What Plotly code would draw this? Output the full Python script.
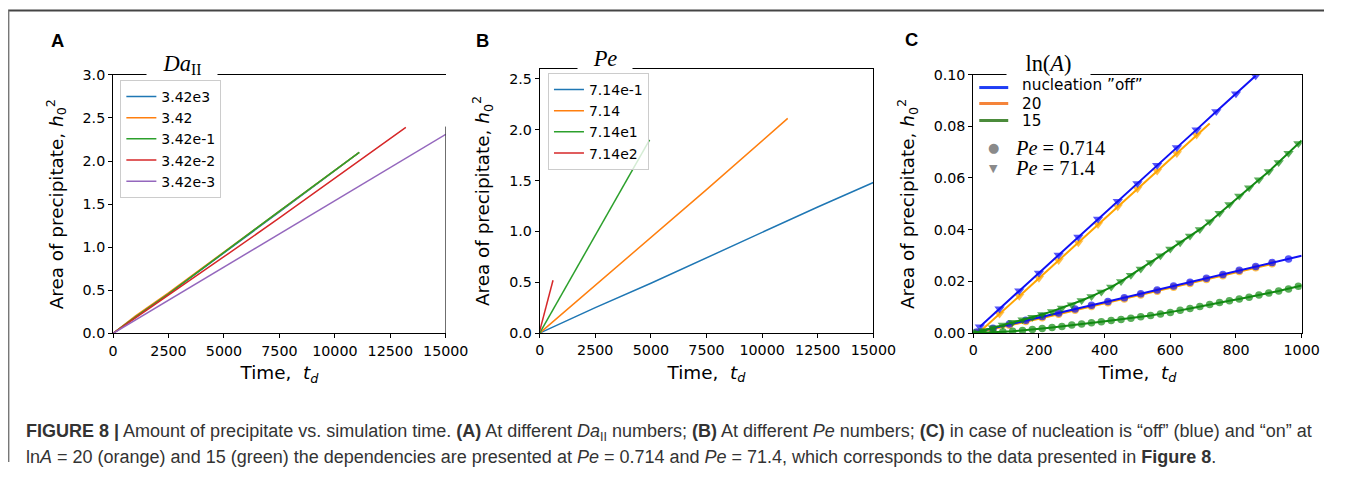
import plotly.graph_objects as go

# The page adds an 8 px body margin, so the figure is made 16 px smaller.
# The photographed picture maps page pixels p to picture pixels q with
# q_x = 0.98 p_x + 4 and q_y = 0.967 p_y + 6.3, so every layout position below is
# given in reference-picture pixels and mapped back through X/Y.
PAGE_W, PAGE_H = 1355, 478
OFF = 8
W, H = PAGE_W - 2 * OFF, PAGE_H - 2 * OFF
SX, BX, SY, BY = 0.98, 4.0, 0.967, 6.3
FS = 1.02  # font compensation for the picture scaling

# ---------------- Panel A : different Da_II ----------------
A_names = ["3.42e3", "3.42", "3.42e-1", "3.42e-2", "3.42e-3"]
A_colors = ["#1f77b4", "#ff7f0e", "#2ca02c", "#d62728", "#9467bd"]
A_t_fast = [0, 1000, 2500, 5000, 7500, 11100]
A_da_3e3 = [0, 0.19, 0.46, 0.93, 1.41, 2.10]
A_da_3 = [0, 0.20, 0.47, 0.94, 1.42, 2.10]
A_da_3em1 = [0, 0.19, 0.46, 0.94, 1.42, 2.10]
A_t_red = [0, 2500, 5000, 7500, 10000, 13200]
A_da_3em2 = [0, 0.44, 0.89, 1.34, 1.80, 2.39]
A_t_purple = [0, 2500, 5000, 7500, 10000, 12500, 15000]
A_da_3em3 = [0, 0.385, 0.77, 1.155, 1.54, 1.925, 2.31]

# ---------------- Panel B : different Pe ----------------
B_names = ["7.14e-1", "7.14", "7.14e1", "7.14e2"]
B_colors = ["#1f77b4", "#ff7f0e", "#2ca02c", "#d62728"]
B_t_blue = [0, 2500, 5000, 7500, 10000, 12500, 15000]
B_pe_0714 = [0, 0.25, 0.49, 0.74, 0.99, 1.24, 1.48]
B_t_orange = [0, 2500, 5000, 7500, 11150]
B_pe_714 = [0, 0.47, 0.94, 1.41, 2.11]
B_t_green = [0, 2500, 4940]
B_pe_71 = [0, 0.96, 1.90]
B_t_red = [0, 300, 600]
B_pe_714e2 = [0.02, 0.27, 0.52]

# ---------------- Panel C : nucleation ----------------
C_colors = {"off": "#1010f5", "20": "#ffa500", "15": "#138a13"}
C_leg_colors = {"off": "#1f3df5", "20": "#f5843a", "15": "#4b8b3b"}

# Pe = 71.4 (triangles)
C_t_off_71 = [20, 80, 140, 200, 260, 320, 380, 440, 500, 560, 620, 680, 740, 800, 860]
C_y_off_71 = [0.0025, 0.0094, 0.0164, 0.0233, 0.0302, 0.0372, 0.0441, 0.0510,
              0.0579, 0.0649, 0.0718, 0.0787, 0.0857, 0.0926, 0.0995]
C_t_20_71 = [20, 80, 140, 200, 260, 320, 380, 440, 500, 560, 620, 680, 720]
C_y_20_71 = [0.0005, 0.0074, 0.0143, 0.0212, 0.0281, 0.0350, 0.0420, 0.0489,
             0.0558, 0.0627, 0.0695, 0.0766, 0.0811]
C_t_15_71 = [0, 30, 60, 90, 120, 150, 180, 210, 240, 270, 300, 330, 360, 390, 420,
             450, 480, 510, 540, 570, 600, 630, 660, 690, 720, 750, 780, 810, 840,
             870, 900, 930, 960, 990, 1000]
C_y_15_71 = [0.0000, 0.0010, 0.0021, 0.0031, 0.0042, 0.0052, 0.0061, 0.0072, 0.0084,
             0.0097, 0.0110, 0.0126, 0.0142, 0.0159, 0.0178, 0.0200, 0.0224, 0.0248,
             0.0273, 0.0299, 0.0325, 0.0350, 0.0376, 0.0401, 0.0431, 0.0464, 0.0497,
             0.0530, 0.0562, 0.0593, 0.0625, 0.0660, 0.0696, 0.0733, 0.0745]

# Pe = 0.714 (circles)
C_t_off_07 = [10, 60, 110, 160, 210, 260, 310, 360, 410, 460, 510, 560, 610, 660,
              710, 760, 810, 860, 910, 960, 1000]
C_y_off_07 = [0.0004, 0.0019, 0.0035, 0.0050, 0.0064, 0.0078, 0.0093, 0.0108, 0.0122,
              0.0137, 0.0152, 0.0167, 0.0182, 0.0197, 0.0212, 0.0227, 0.0243, 0.0258,
              0.0273, 0.0287, 0.0299]
C_t_20_07 = [10, 60, 110, 160, 210, 260, 310, 360, 410, 460, 510, 560, 610, 660,
             710, 760, 810, 860, 910, 920]
C_y_20_07 = [0.0001, 0.0015, 0.0030, 0.0045, 0.0059, 0.0073, 0.0088, 0.0103, 0.0117,
             0.0132, 0.0147, 0.0162, 0.0177, 0.0192, 0.0207, 0.0222, 0.0238, 0.0253,
             0.0268, 0.0271]
C_t_15_07 = [0, 30, 60, 90, 120, 150, 180, 210, 240, 270, 300, 330, 360, 390, 420,
             450, 480, 510, 540, 570, 600, 630, 660, 690, 720, 750, 780, 810, 840,
             870, 900, 930, 960, 990, 1000]
C_y_15_07 = [0.0000, 0.0001, 0.0003, 0.0005, 0.0007, 0.0010, 0.0014, 0.0018, 0.0022,
             0.0026, 0.0031, 0.0035, 0.0040, 0.0044, 0.0049, 0.0053, 0.0058, 0.0063,
             0.0068, 0.0074, 0.0080, 0.0088, 0.0095, 0.0103, 0.0111, 0.0118, 0.0125,
             0.0132, 0.0139, 0.0147, 0.0155, 0.0163, 0.0171, 0.0181, 0.0184]

caption1 = ("<b>FIGURE 8 |</b> Amount of precipitate vs. simulation time. <b>(A)</b> At different "
            "<i>Da</i><sub>II</sub> numbers; <b>(B)</b> At different <i>Pe</i> numbers; "
            "<b>(C)</b> in case of nucleation is “off” (blue) and “on” at")
caption2 = ("ln<i>A</i> = 20 (orange) and 15 (green) the dependencies are presented at "
            "<i>Pe</i> = 0.714 and <i>Pe</i> = 71.4, which corresponds to the data presented in "
            "<b>Figure 8</b>.")


def X(q):
    return ((q - BX) / SX - OFF) / W


def Y(q):
    return 1 - ((q - BY) / SY - OFF) / H


fig = go.Figure()

# Panel A traces
A_series = [(A_t_fast, A_da_3e3), (A_t_fast, A_da_3), (A_t_fast, A_da_3em1),
            (A_t_red, A_da_3em2), (A_t_purple, A_da_3em3)]
for (t, y), name, col in zip(A_series, A_names, A_colors):
    fig.add_trace(go.Scatter(x=t, y=y, mode="lines", name=name,
                             line=dict(color=col, width=1.5),
                             xaxis="x", yaxis="y", legend="legend"))

# Panel B traces
B_series = [(B_t_blue, B_pe_0714), (B_t_orange, B_pe_714), (B_t_green, B_pe_71),
            (B_t_red, B_pe_714e2)]
for (t, y), name, col in zip(B_series, B_names, B_colors):
    fig.add_trace(go.Scatter(x=t, y=y, mode="lines", name=name,
                             line=dict(color=col, width=1.5),
                             xaxis="x2", yaxis="y2", legend="legend2"))


def sizes(t, s, last_line_only):
    out = [s] * len(t)
    if last_line_only:
        out[-1] = 0
    return out


C_series = [
    (C_t_20_07, C_y_20_07, "20", "circle", 7.5, True),
    (C_t_20_71, C_y_20_71, "20", "triangle-down", 9, True),
    (C_t_off_07, C_y_off_07, "off", "circle", 7.5, True),
    (C_t_off_71, C_y_off_71, "off", "triangle-down", 9, False),
    (C_t_15_07, C_y_15_07, "15", "circle", 7.5, True),
    (C_t_15_71, C_y_15_71, "15", "triangle-down", 9, True),
]
for t, y, key, sym, s, lo in C_series:
    fig.add_trace(go.Scatter(x=t, y=y, mode="lines+markers", showlegend=False,
                             line=dict(color=C_colors[key], width=2),
                             marker=dict(color=C_colors[key], symbol=sym,
                                         size=sizes(t, s, lo), line=dict(width=0)),
                             xaxis="x3", yaxis="y3"))

font_ax = dict(family="DejaVu Sans", size=14 * FS, color="black")
font_title = dict(family="DejaVu Sans", size=18 * FS, color="black")


def axis(domain, rng, dtick, fmt, anchor=None, title=None, standoff=None, mirror=True):
    d = dict(domain=domain, range=rng, dtick=dtick, tick0=0, showline=True,
             linecolor="black", linewidth=1, mirror=mirror, ticks="outside", ticklen=4,
             tickwidth=1, tickcolor="black", showgrid=False, zeroline=False,
             tickfont=font_ax, anchor=anchor, fixedrange=True, tickformat=fmt,
             separatethousands=False)
    if title:
        d["title"] = dict(text=title, font=font_title, standoff=standoff)
    return d


ytitle = "Area of precipitate, <i>h</i><sub>0</sub><sup>2</sup>"
xtitle = "Time,  <i>t</i><sub><i>d</i></sub>"

layout = dict(
    width=W, height=H, margin=dict(l=0, r=0, t=0, b=0),
    paper_bgcolor="white", plot_bgcolor="white",
    xaxis=axis([X(112), X(445)], [0, 15000], 2500, "d", anchor="y", title=xtitle, standoff=8),
    yaxis=axis([Y(332), Y(73)], [0, 3.0], 0.5, ".1f", anchor="x", title=ytitle,
               standoff=14, mirror=False),
    xaxis2=axis([X(539), X(873)], [0, 15000], 2500, "d", anchor="y2", title=xtitle,
                standoff=8),
    yaxis2=axis([Y(331.7), Y(66.7)], [0, 2.6], 0.5, ".1f", anchor="x2", title=ytitle,
                standoff=14),
    xaxis3=axis([X(973), X(1301.7)], [0, 1000], 200, "d", anchor="y3", title=xtitle,
                standoff=8),
    yaxis3=axis([Y(331.7), Y(72.7)], [0, 0.1], 0.02, ".2f", anchor="x3", title=ytitle,
                standoff=14),
    legend=dict(x=X(119.3), y=Y(78), xanchor="left", yanchor="top",
                bgcolor="rgba(255,255,255,0.8)", bordercolor="#cccccc", borderwidth=1,
                font=dict(family="DejaVu Sans", size=14, color="black"),
                itemwidth=30),
    legend2=dict(x=X(547.3), y=Y(71), xanchor="left", yanchor="top",
                 bgcolor="rgba(255,255,255,0.8)", bordercolor="#cccccc", borderwidth=1,
                 font=dict(family="DejaVu Sans", size=14, color="black"),
                 itemwidth=30),
    showlegend=True,
)
fig.update_layout(**layout)

shapes = [
    # outer frame
    dict(type="line", xref="paper", yref="paper", x0=X(7), x1=1.0, y0=Y(8.5), y1=Y(8.5),
         line=dict(color="#444444", width=2)),
    dict(type="line", xref="paper", yref="paper", x0=X(7.5), x1=X(7.5), y0=Y(8.5),
         y1=0.0, line=dict(color="#777777", width=1.5)),
    # panel A right spine (partial, as in the reference)
    dict(type="line", xref="x", yref="y", x0=15000, x1=15000, y0=0, y1=2.4,
         line=dict(color="black", width=1)),
]
# Panel C manual legend keys
for py, key in [(85.7, "off"), (101.7, "20"), (118.7, "15")]:
    shapes.append(dict(type="line", xref="paper", yref="paper", x0=X(979), x1=X(1008),
                       y0=Y(py), y1=Y(py), line=dict(color=C_leg_colors[key], width=3)))
fig.update_layout(shapes=shapes)

ann = []
# panel letters
for txt, px, py in [("A", 56, 38.5), ("B", 481.5, 38.3), ("C", 911, 37.5)]:
    ann.append(dict(text=f"<b>{txt}</b>", x=X(px), y=Y(py), xref="paper", yref="paper",
                    showarrow=False, xanchor="center", yanchor="middle",
                    font=dict(family="Liberation Sans", size=18 * FS, color="black")))
# legend titles covering the top spines
for txt, px, py, w in [("<i>Da</i><sub>II</sub>", 181, 63, 70), ("<i>Pe</i>", 604, 57, 54),
                       ("ln(<i>A</i>)", 1048, 62, 83)]:
    ann.append(dict(text=txt, x=X(px), y=Y(py), xref="paper", yref="paper",
                    showarrow=False, xanchor="center", yanchor="middle",
                    width=w, height=27, bgcolor="white", borderpad=0,
                    font=dict(family="Liberation Serif", size=22 * FS, color="black")))
# Panel C legend texts
for txt, py in [("nucleation ”off”", 83.5), ("20", 101.7), ("15", 119)]:
    ann.append(dict(text=txt, x=X(1020), y=Y(py), xref="paper", yref="paper",
                    showarrow=False, xanchor="left", yanchor="middle",
                    font=dict(family="DejaVu Sans", size=15 * FS, color="black")))
for glyph, gsize, py, txt in [("●", 13, 146, "<i>Pe</i> = 0.714"),
                              ("▼", 11, 166.7, "<i>Pe</i> = 71.4")]:
    ann.append(dict(text=glyph, x=X(993.5), y=Y(py), xref="paper", yref="paper",
                    showarrow=False, xanchor="center", yanchor="middle",
                    font=dict(family="DejaVu Sans", size=gsize, color="#8a8a8a")))
    ann.append(dict(text=txt, x=X(1012.7), y=Y(py), xref="paper", yref="paper",
                    showarrow=False, xanchor="left", yanchor="middle",
                    font=dict(family="Liberation Serif", size=20 * FS, color="black")))
# caption
for txt, py in [(caption1, 431), (caption2, 456)]:
    ann.append(dict(text=txt, x=X(22.7), y=Y(py), xref="paper", yref="paper",
                    showarrow=False, xanchor="left", yanchor="middle", align="left",
                    font=dict(family="Liberation Sans", size=18, color="#333333")))
fig.update_layout(annotations=ann)

fig.write_html("out.html", config={"displayModeBar": False, "responsive": False})
